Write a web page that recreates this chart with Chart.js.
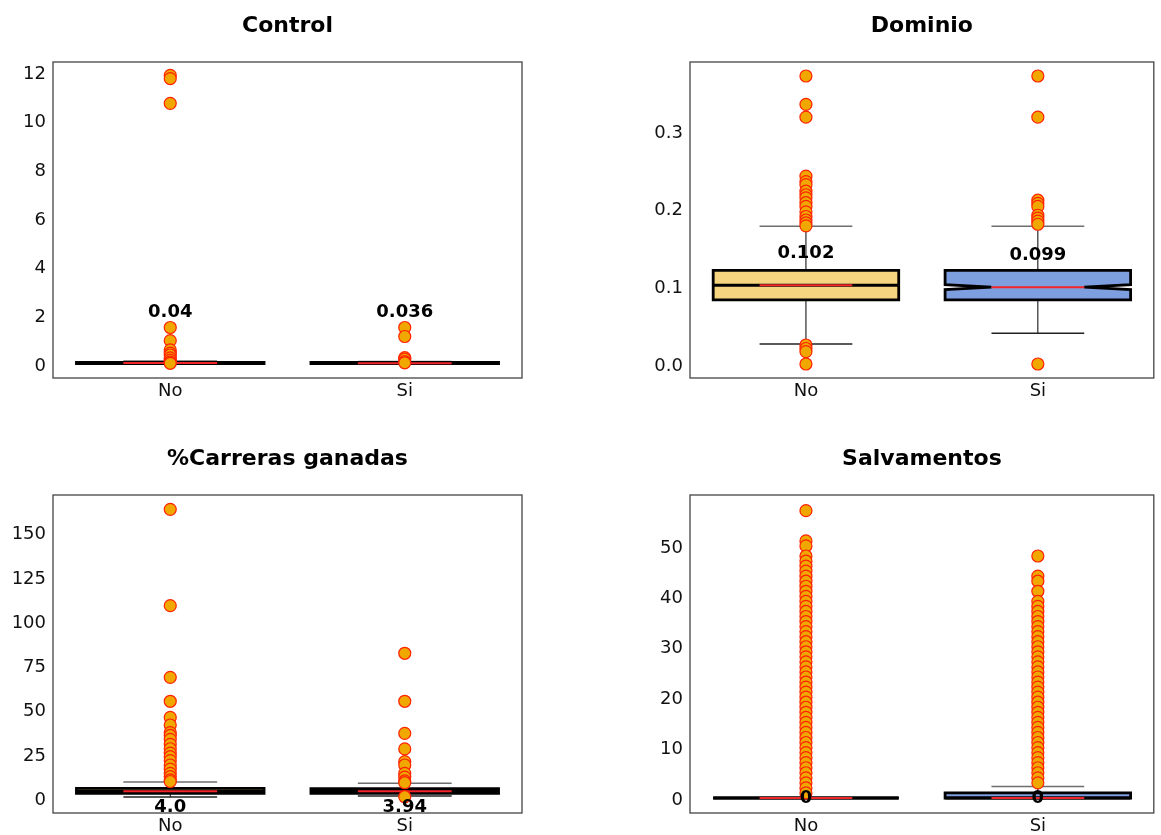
<!DOCTYPE html>
<html>
<head>
<meta charset="utf-8">
<script src="https://cdn.jsdelivr.net/npm/chart.js@4.4.0/dist/chart.umd.min.js"></script>
<style>
  body { margin: 0; background: #fff; width: 1161px; height: 835px; overflow: hidden; position: relative; }
  canvas { position: absolute; }
</style>
</head>
<body>
<canvas id="control" width="540" height="400" style="left:0;top:0"></canvas>
<canvas id="dominio" width="561" height="400" style="left:600px;top:0"></canvas>
<canvas id="carreras" width="540" height="402" style="left:0;top:433px"></canvas>
<canvas id="salvamentos" width="561" height="402" style="left:600px;top:433px"></canvas>
<script>
const categories = ['No', 'Si']

// Control
const controlTicks = [0, 2, 4, 6, 8, 10, 12]
const controlQ1 = [0.02, 0.015]
const controlMedian = [0.04, 0.036]
const controlQ3 = [0.07, 0.065]
const controlLow = [0, 0]
const controlHigh = [0.12, 0.1]
const controlLabels = ['0.04', '0.036']
const controlLabelAt = [2.18, 2.18]
const controlOutNo = [11.86, 11.73, 10.71, 1.5, 0.96, 0.58, 0.45, 0.37, 0.25, 0.16, 0.08, 0.03]
const controlOutSi = [1.5, 1.13, 0.26, 0.2, 0.1, 0.05]

// Dominio
const dominioTicks = [0, 0.1, 0.2, 0.3]
const dominioQ1 = [0.0827, 0.0827]
const dominioMedian = [0.1016, 0.099]
const dominioQ3 = [0.1205, 0.1205]
const dominioLow = [0.0258, 0.0396]
const dominioHigh = [0.1774, 0.1774]
const dominioLabels = ['0.102', '0.099']
const dominioLabelAt = [0.1438, 0.1408]
const dominioOutNo = [0.371, 0.3345, 0.318, 0.242, 0.235, 0.231, 0.2226, 0.218, 0.214, 0.208, 0.203, 0.196, 0.19, 0.1855, 0.1817, 0.178,
  0.0245, 0.02, 0.016, 0.0]
const dominioOutSi = [0.371, 0.318, 0.211, 0.207, 0.203, 0.1916, 0.188, 0.184, 0.18, 0.0]

// %Carreras ganadas
const carrerasTicks = [0, 25, 50, 75, 100, 125, 150]
const carrerasQ1 = [2.8, 2.8]
const carrerasMedian = [4.0, 3.94]
const carrerasQ3 = [5.6, 5.4]
const carrerasLow = [0.75, 1.3]
const carrerasHigh = [9.2, 8.5]
const carrerasLabels = ['4.0', '3.94']
const carrerasLabelAt = [-4.7, -4.7]
const carrerasOutNo = [163.2, 108.8, 68.3, 54.8, 45.7, 41.4, 37.1, 35.5, 33.3, 30.5, 28.0, 25.5, 23.5, 21.3, 18.8, 16.5, 14.1, 12.2, 10.4, 9.5]
const carrerasOutSi = [81.9, 54.8, 36.7, 27.9, 20.7, 18.8, 14.1, 12.0, 9.8, 8.8, 0.9]

// Salvamentos
const salvamentosTicks = [0, 10, 20, 30, 40, 50]
const salvamentosQ1 = [0, 0]
const salvamentosMedian = [0, 0]
const salvamentosQ3 = [0, 1]
const salvamentosLow = [0, 0]
const salvamentosHigh = [0, 2.3]
const salvamentosLabels = ['0', '0']
const salvamentosLabelAt = [0.1, 0.1]
const salvamentosOutNo = [57, 51, 50, 48, 47, 46, 45, 44, 43, 42, 41, 40, 39, 38, 37, 36, 35, 34, 33, 32, 31, 30, 29, 28, 27, 26,
  25, 24, 23, 22, 21, 20, 19, 18, 17, 16, 15, 14, 13, 12, 11, 10, 9, 8, 7, 6, 5, 4, 3, 2, 1]
const salvamentosOutSi = [48, 44, 43, 41, 39, 38, 37, 36, 35, 34, 33, 32, 31, 30, 29, 28, 27, 26, 25, 24, 23, 22, 21, 20, 19, 18,
  17, 16, 15, 14, 13, 12, 11, 10, 9, 8, 7, 6, 5, 4, 3]

const boxColors = ['#F5D57F', '#7E9FDF']

// draws boxes, whiskers, medians, frame, labels and title
const boxPlugin = {
  id: 'boxes',
  beforeDatasetsDraw(chart, args, o) {
    const ctx = chart.ctx
    const x = chart.scales.x, y = chart.scales.y
    ctx.save()
    categories.forEach((c, i) => {
      const cx = x.getPixelForValue(i)
      const hw = x.getPixelForValue(i + 0.4) - cx
      const cw = x.getPixelForValue(i + 0.2) - cx
      const q1 = y.getPixelForValue(o.q1[i]), q3 = y.getPixelForValue(o.q3[i])
      const med = y.getPixelForValue(o.median[i])
      const lo = y.getPixelForValue(o.low[i]), hi = y.getPixelForValue(o.high[i])

      // whiskers
      ctx.strokeStyle = '#000'
      ctx.lineWidth = 1
      ctx.beginPath()
      ctx.moveTo(cx, q3); ctx.lineTo(cx, hi)
      ctx.moveTo(cx, q1); ctx.lineTo(cx, lo)
      ctx.stroke()
      ctx.strokeStyle = '#6e6e6e'
      ctx.lineWidth = 1.5
      ctx.beginPath()
      ctx.moveTo(cx - cw, hi); ctx.lineTo(cx + cw, hi)
      ctx.stroke()
      ctx.strokeStyle = '#222'
      ctx.beginPath()
      ctx.moveTo(cx - cw, lo); ctx.lineTo(cx + cw, lo)
      ctx.stroke()

      // box
      ctx.fillStyle = boxColors[i]
      ctx.strokeStyle = '#000'
      ctx.lineWidth = 2.8
      ctx.beginPath()
      if (o.notch[i]) {
        const n = 2.5
        ctx.moveTo(cx - hw, q1)
        ctx.lineTo(cx - hw, med + n)
        ctx.lineTo(cx - cw, med)
        ctx.lineTo(cx - hw, med - n)
        ctx.lineTo(cx - hw, q3)
        ctx.lineTo(cx + hw, q3)
        ctx.lineTo(cx + hw, med - n)
        ctx.lineTo(cx + cw, med)
        ctx.lineTo(cx + hw, med + n)
        ctx.lineTo(cx + hw, q1)
        ctx.closePath()
      } else {
        ctx.rect(cx - hw, q3, hw * 2, q1 - q3)
      }
      ctx.fill()
      ctx.stroke()

      // median
      if (!o.notch[i]) {
        ctx.lineWidth = 3
        ctx.beginPath()
        ctx.moveTo(cx - hw, med); ctx.lineTo(cx + hw, med)
        ctx.stroke()
      }
      ctx.strokeStyle = '#F2262A'
      ctx.lineWidth = 2
      ctx.beginPath()
      ctx.moveTo(cx - cw, med); ctx.lineTo(cx + cw, med)
      ctx.stroke()
    })
    ctx.restore()
  },
  afterDatasetsDraw(chart, args, o) {
    const ctx = chart.ctx
    const a = chart.chartArea
    const x = chart.scales.x, y = chart.scales.y
    ctx.save()
    ctx.strokeStyle = '#444'
    ctx.lineWidth = 1.3
    ctx.strokeRect(a.left, a.top, a.right - a.left, a.bottom - a.top)

    ctx.fillStyle = '#000'
    ctx.textAlign = 'center'
    ctx.textBaseline = 'middle'
    ctx.font = 'bold 18px "DejaVu Sans"'
    categories.forEach((c, i) => {
      ctx.fillText(o.labels[i], x.getPixelForValue(i), y.getPixelForValue(o.labelAt[i]) + 1)
    })

    ctx.font = 'bold 22px "DejaVu Sans"'
    ctx.fillText(o.title, (a.left + a.right) / 2, a.top - 36)
    ctx.restore()
  }
}

const outlierStyle = {
  pointRadius: 6,
  pointHoverRadius: 6,
  backgroundColor: '#F0A800',
  borderColor: '#FF2200',
  borderWidth: 1.2,
  showLine: false
}

const makePanel = (id, p) => {
  const ctx = document.getElementById(id).getContext('2d')
  new Chart(ctx, {
    type: 'scatter',
    data: {
      datasets: [
        Object.assign({ data: p.outNo.map(v => ({ x: 0, y: v })) }, outlierStyle),
        Object.assign({ data: p.outSi.map(v => ({ x: 1, y: v })) }, outlierStyle)
      ]
    },
    options: {
      responsive: false,
      animation: false,
      devicePixelRatio: 1,
      layout: { padding: { top: 62, right: p.padRight, left: 0, bottom: 0 } },
      plugins: {
        legend: { display: false },
        tooltip: { enabled: false },
        boxes: {
          title: p.title, q1: p.q1, q3: p.q3, median: p.median, low: p.low, high: p.high,
          labels: p.labels, labelAt: p.labelAt, notch: p.notch
        }
      },
      scales: {
        x: {
          type: 'linear', min: -0.5, max: 1.5,
          grid: { display: false, drawTicks: false },
          border: { display: false },
          afterBuildTicks: s => { s.ticks = categories.map((c, i) => ({ value: i })) },
          afterFit: s => { s.height = 22 },
          ticks: {
            padding: 3,
            color: '#111',
            font: { family: 'DejaVu Sans', size: 18 },
            callback: v => categories[v]
          }
        },
        y: {
          min: p.min, max: p.max,
          grid: { display: false, drawTicks: false },
          border: { display: false },
          afterBuildTicks: s => { s.ticks = p.ticks.map(v => ({ value: v })) },
          afterFit: s => { s.width = p.yWidth },
          ticks: {
            padding: 7,
            labelOffset: 2,
            color: '#111',
            font: { family: 'DejaVu Sans', size: 18 },
            callback: p.fmt
          }
        }
      }
    },
    plugins: [boxPlugin]
  })
}

makePanel('control', {
  title: 'Control', ticks: controlTicks, min: -0.575, max: 12.41, fmt: v => String(v),
  q1: controlQ1, median: controlMedian, q3: controlQ3, low: controlLow, high: controlHigh,
  labels: controlLabels, labelAt: controlLabelAt, notch: [false, false],
  outNo: controlOutNo, outSi: controlOutSi, yWidth: 53, padRight: 18
})
makePanel('dominio', {
  title: 'Dominio', ticks: dominioTicks, min: -0.018, max: 0.389, fmt: v => v.toFixed(1),
  q1: dominioQ1, median: dominioMedian, q3: dominioQ3, low: dominioLow, high: dominioHigh,
  labels: dominioLabels, labelAt: dominioLabelAt, notch: [false, true],
  outNo: dominioOutNo, outSi: dominioOutSi, yWidth: 90, padRight: 3
})
makePanel('carreras', {
  title: '%Carreras ganadas', ticks: carrerasTicks, min: -8.3, max: 171.3, fmt: v => String(v),
  q1: carrerasQ1, median: carrerasMedian, q3: carrerasQ3, low: carrerasLow, high: carrerasHigh,
  labels: carrerasLabels, labelAt: carrerasLabelAt, notch: [false, false],
  outNo: carrerasOutNo, outSi: carrerasOutSi, yWidth: 53, padRight: 18
})
makePanel('salvamentos', {
  title: 'Salvamentos', ticks: salvamentosTicks, min: -2.98, max: 60.1, fmt: v => String(v),
  q1: salvamentosQ1, median: salvamentosMedian, q3: salvamentosQ3, low: salvamentosLow, high: salvamentosHigh,
  labels: salvamentosLabels, labelAt: salvamentosLabelAt, notch: [false, false],
  outNo: salvamentosOutNo, outSi: salvamentosOutSi, yWidth: 90, padRight: 3
})
</script>
</body>
</html>
